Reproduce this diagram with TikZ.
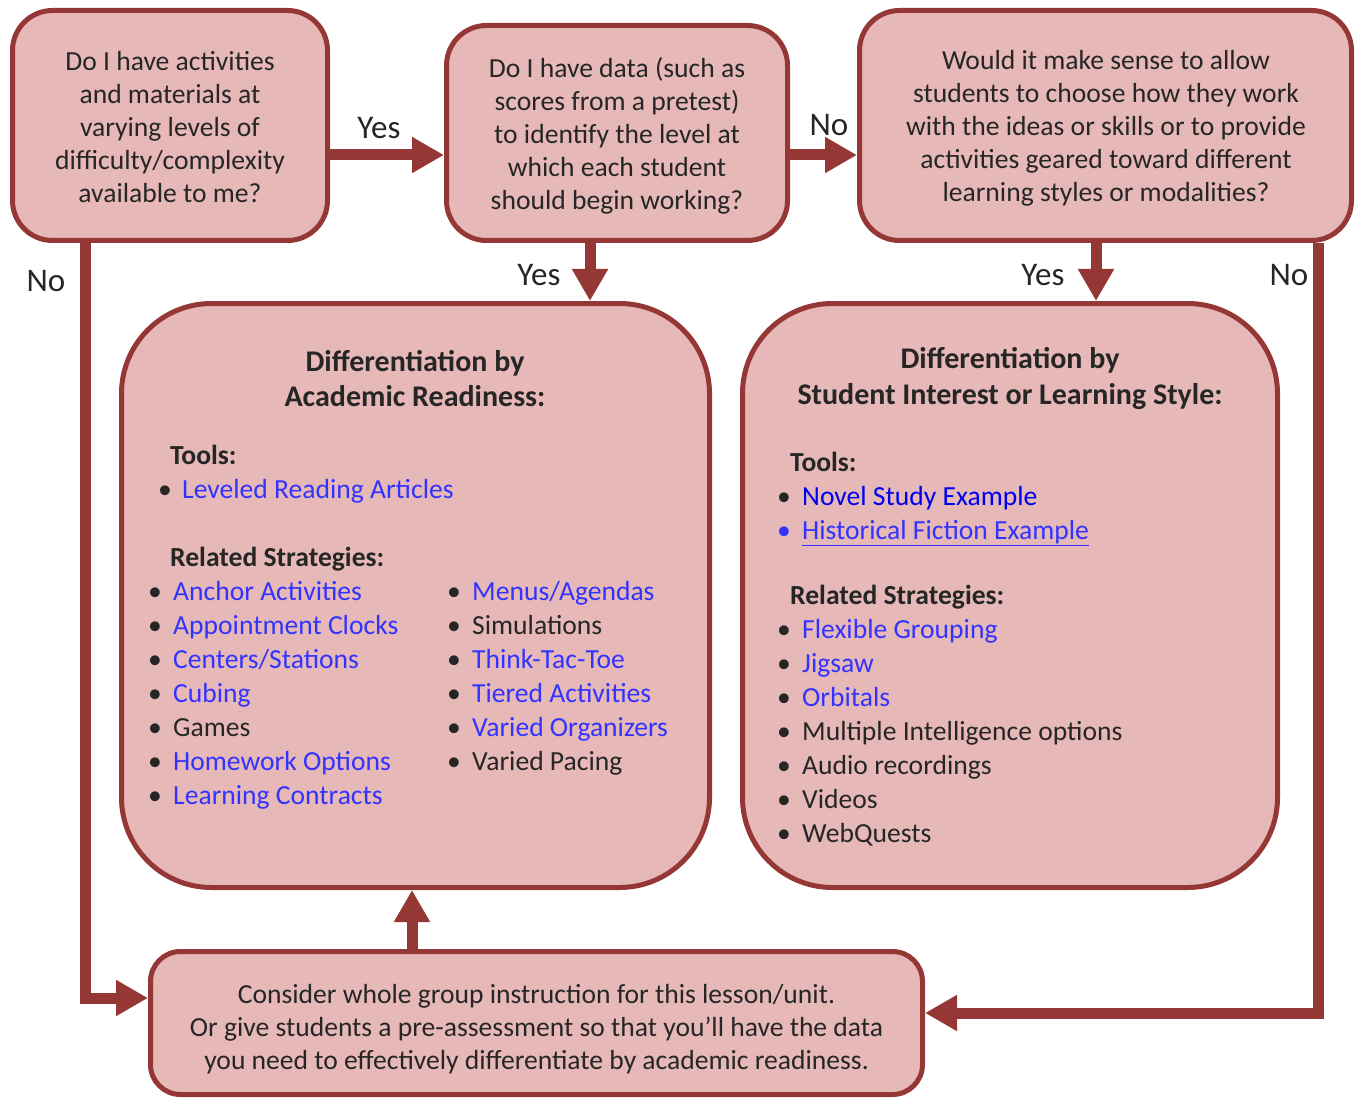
\documentclass[tikz,border=0pt]{standalone}
\usepackage{fontspec}
\setmainfont{Carlito}
\usetikzlibrary{arrows.meta}
\definecolor{bfill}{RGB}{230,184,183}
\definecolor{bdraw}{RGB}{149,55,53}
\definecolor{txt}{RGB}{38,38,38}
\definecolor{lnk}{RGB}{51,51,255}
\definecolor{lnkb}{RGB}{0,0,240}
\newcommand\bfnt{\fontsize{27.6}{33}\selectfont}
\newcommand\lfnt{\fontsize{33}{38}\selectfont}
\newcommand\hfnt{\fontsize{30}{35}\selectfont\bfseries}
\newcommand\li[5]{\node[lst] (#1) at (#2,#3) {\makebox[25pt][l]{•}\textcolor{#4}{#5}};}
\begin{document}
\begin{tikzpicture}[x=1pt,y=-1pt,
  box/.style={draw=bdraw, fill=bfill, line width=5pt, inner sep=0pt},
  btxt/.style={text=txt, font=\bfnt, inner sep=0pt, align=center},
  arr/.style={draw=bdraw, line width=11pt, -{Triangle[length=32pt,width=34pt]}, line join=miter},
  lbl/.style={text=txt, font=\lfnt, inner sep=0pt, anchor=base},
  lst/.style={text=txt, font=\bfnt, inner sep=0pt, anchor=base west},
  hd/.style={text=txt, font=\hfnt, inner sep=0pt, anchor=base},
  sub/.style={text=txt, font=\bfnt\bfseries, inner sep=0pt, anchor=base west}]
\useasboundingbox (0,0) rectangle (1359,1099);

% boxes
\node[box, rounded corners=40pt, minimum width=315pt, minimum height=230pt] (b1) at (170,125.5) {};
\node[box, rounded corners=40pt, minimum width=341pt, minimum height=215pt] (b2) at (617,133) {};
\node[box, rounded corners=40pt, minimum width=492pt, minimum height=230pt] (b3) at (1105.5,125.5) {};
\node[box, rounded corners=90pt, minimum width=588pt, minimum height=584pt] (b4) at (415.5,595.5) {};
\node[box, rounded corners=90pt, minimum width=535pt, minimum height=584pt] (b5) at (1010,595.5) {};
\node[box, rounded corners=30pt, minimum width=772pt, minimum height=143pt] (b6) at (536.5,1023) {};

% box texts
\node[btxt] (q1) at (170,127.5)
 {Do I have activities\\and materials at\\varying levels of\\difficulty/complexity\\available to me?};
\node[btxt] (q2) at (617,136)
 {Do I have data (such as\\scores from a pretest)\\to identify the level at\\which each student\\should begin working?};
\node[btxt] (q3) at (1106,128)
 {Would it make sense to allow\\students to choose how they work\\with the ideas or skills or to provide\\activities geared toward different\\learning styles or modalities?};
\node[btxt] (q6) at (536.5,1029)
 {Consider whole group instruction for this lesson/unit.\\Or give students a pre-assessment so that you’ll have the data\\you need to effectively differentiate by academic readiness.};

% helper coordinates
\coordinate (yTop) at (0,155);
\coordinate (x2) at (590,0);
\coordinate (x3) at (1096,0);
\coordinate (xUp) at (412,0);
\coordinate (nL) at (85,998);
\coordinate (nR) at (1318,1013);

% connectors
\draw[arr] (b1.east |- yTop) -- (b2.west |- yTop);
\draw[arr] (b2.east |- yTop) -- (b3.west |- yTop);
\draw[arr] (b2.south -| x2) -- (b4.north -| x2);
\draw[arr] (b3.south -| x3) -- (b5.north -| x3);
\draw[arr] (b1.south -| nL) |- (b6.west |- nL);
\draw[arr] (b3.south -| nR) |- (b6.east |- nR);
\draw[arr] (b6.north -| xUp) -- (b4.south -| xUp);

% connector labels
\node[lbl] (l1) at (379,139) {Yes};
\node[lbl] (l2) at (829,136) {No};
\node[lbl] (l3) at (539,285) {Yes};
\node[lbl] (l4) at (1043,285) {Yes};
\node[lbl] (l5) at (46,291) {No};
\node[lbl] (l6) at (1289,285) {No};

% box 4 content
\node[hd] (h4a) at (415,371) {Differentiation by};
\node[hd] (h4b) at (415,406) {Academic Readiness:};
\node[sub] (t4) at (170,464) {Tools:};
\node[lst] (t4a) at (158,498) {\makebox[24pt][l]{•}\textcolor{lnk}{Leveled Reading Articles}};
\node[sub] (r4) at (170,566) {Related Strategies:};
\li{a1}{148}{600}{lnk}{Anchor Activities}
\li{a2}{148}{634}{lnk}{Appointment Clocks}
\li{a3}{148}{668}{lnk}{Centers/Stations}
\li{a4}{148}{702}{lnk}{Cubing}
\li{a5}{148}{736}{txt}{Games}
\li{a6}{148}{770}{lnk}{Homework Options}
\li{a7}{148}{804}{lnk}{Learning Contracts}
\li{c1}{447}{600}{lnk}{Menus/Agendas}
\li{c2}{447}{634}{txt}{Simulations}
\li{c3}{447}{668}{lnk}{Think-Tac-Toe}
\li{c4}{447}{702}{lnk}{Tiered Activities}
\li{c5}{447}{736}{lnk}{Varied Organizers}
\li{c6}{447}{770}{txt}{Varied Pacing}

% box 5 content
\node[hd] (h5a) at (1010,368) {Differentiation by};
\node[hd] (h5b) at (1010,404) {Student Interest or Learning Style:};
\node[sub] (t5) at (790,471) {Tools:};
\li{s1}{777}{505}{lnkb}{Novel Study Example}
\node[lst] (s2) at (777,539) {\makebox[25pt][l]{\textcolor{lnk}{•}}\textcolor{lnk}{\underline{Historical Fiction Example}}};
\node[sub] (r5) at (790,604) {Related Strategies:};
\li{d1}{777}{638}{lnk}{Flexible Grouping}
\li{d2}{777}{672}{lnk}{Jigsaw}
\li{d3}{777}{706}{lnk}{Orbitals}
\li{d4}{777}{740}{txt}{Multiple Intelligence options}
\li{d5}{777}{774}{txt}{Audio recordings}
\li{d6}{777}{808}{txt}{Videos}
\li{d7}{777}{842}{txt}{WebQuests}
\end{tikzpicture}
\end{document}
